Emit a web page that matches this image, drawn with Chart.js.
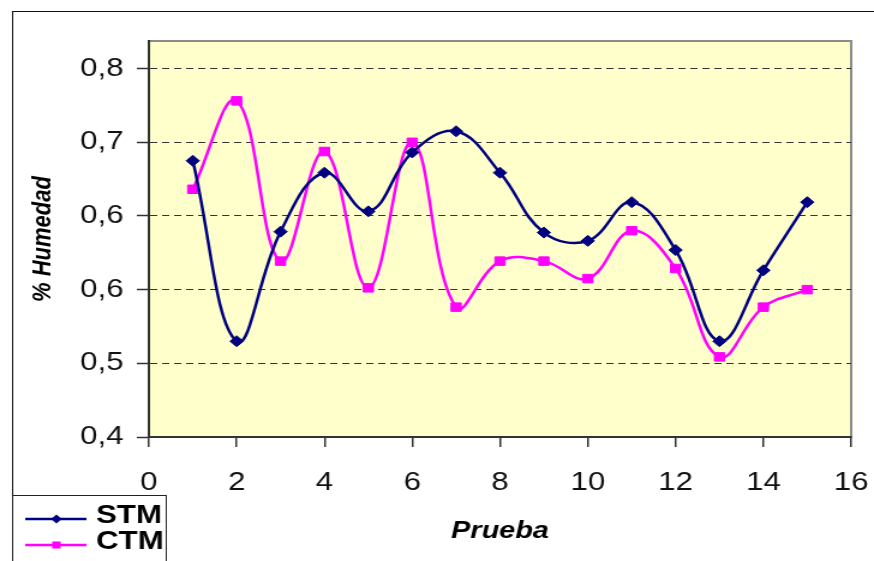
<!DOCTYPE html>
<html>
<head>
<meta charset="utf-8">
<script src="https://cdn.jsdelivr.net/npm/chart.js@4.4.1/dist/chart.umd.min.js"></script>
<style>
  html, body { margin: 0; padding: 0; background: #fff; overflow: hidden; }
  /* chart is drawn narrow and widened, so the lettering comes out broad */
  #wrap { width: 728px; height: 561px; transform: scaleX(1.2005); transform-origin: 0 0; }
</style>
</head>
<body>
<div id="wrap"><canvas id="humedad-chart" width="728" height="561"></canvas></div>
<script>
const pruebas = [1, 2, 3, 4, 5, 6, 7, 8, 9, 10, 11, 12, 13, 14, 15];
const stmValues = [0.700, 0.504, 0.623, 0.687, 0.645, 0.709, 0.732, 0.687, 0.622, 0.613, 0.655, 0.603, 0.504, 0.581, 0.655];
const ctmValues = [0.669, 0.765, 0.591, 0.710, 0.562, 0.720, 0.541, 0.591, 0.591, 0.572, 0.624, 0.583, 0.487, 0.541, 0.560];
const xTicks = [0, 2, 4, 6, 8, 10, 12, 14, 16];
const yTicks = [0.4, 0.48, 0.56, 0.64, 0.72, 0.8];

const family = "'Liberation Sans', Arial, sans-serif";

// yellow plot area, its grey frame and the outer chart border
const plotFrame = {
    id: 'plotFrame',
    beforeDraw(chart) {
        const { ctx, chartArea: a } = chart;
        ctx.save();
        ctx.strokeStyle = '#111';
        ctx.lineWidth = 1;
        ctx.strokeRect(10.5, 11.5, 900, 700);
        ctx.fillStyle = '#FFFFCC';
        ctx.fillRect(a.left, a.top, a.right - a.left, a.bottom - a.top);
        ctx.strokeStyle = '#8c8c8c';
        ctx.lineWidth = 2;
        ctx.strokeRect(a.left, a.top, a.right - a.left, a.bottom - a.top);
        ctx.restore();
    }
};

// boxed legend in the lower left corner
const boxLegend = {
    id: 'boxLegend',
    afterDraw(chart) {
        const { ctx } = chart;
        ctx.save();
        ctx.fillStyle = '#fff';
        ctx.fillRect(10, 495, 128, 80);
        ctx.strokeStyle = '#222';
        ctx.lineWidth = 1;
        ctx.strokeRect(10.5, 495.5, 128, 80);
        ctx.font = `bold 26px ${family}`;
        ctx.textBaseline = 'middle';
        chart.data.datasets.forEach((ds, i) => {
            const y = 519 + i * 26;
            ctx.strokeStyle = ds.borderColor;
            ctx.lineWidth = ds.borderWidth;
            ctx.beginPath();
            ctx.moveTo(21, y);
            ctx.lineTo(72, y);
            ctx.stroke();
            ctx.fillStyle = ds.pointBackgroundColor;
            Chart.helpers.drawPoint(ctx, { pointStyle: ds.pointStyle, radius: ds.pointRadius - 1, borderWidth: 0 }, 47, y);
            ctx.fillStyle = '#000';
            ctx.fillText(ds.label, 80, y - 3);
        });
        ctx.restore();
    }
};

new Chart(document.getElementById('humedad-chart'), {
    type: 'line',
    data: {
        datasets: [
            {
                label: 'STM',
                data: pruebas.map((p, i) => ({ x: p, y: stmValues[i] })),
                borderColor: '#000080',
                backgroundColor: '#000080',
                pointBackgroundColor: '#000080',
                pointBorderColor: '#000080',
                pointStyle: 'rectRot',
                pointRadius: 5.5,
                pointBorderWidth: 1,
                borderWidth: 2.5,
                tension: 0.4
            },
            {
                label: 'CTM',
                data: pruebas.map((p, i) => ({ x: p, y: ctmValues[i] })),
                borderColor: '#FF00FF',
                backgroundColor: '#FF00FF',
                pointBackgroundColor: '#FF00FF',
                pointBorderColor: '#FF00FF',
                pointStyle: 'rect',
                pointRadius: 6,
                pointBorderWidth: 1,
                borderWidth: 2.5,
                tension: 0.4
            }
        ]
    },
    options: {
        responsive: false,
        animation: false,
        devicePixelRatio: 1,
        layout: { padding: { top: 41, right: 19, left: 0, bottom: 0 } },
        plugins: {
            legend: { display: false },
            tooltip: { enabled: false }
        },
        scales: {
            x: {
                type: 'linear',
                min: 0,
                max: 16,
                afterBuildTicks: scale => { scale.ticks = xTicks.map(v => ({ value: v })); },
                afterFit: scale => {
                    scale.height = 124;
                    scale.paddingLeft = 0;
                    scale.paddingRight = 0;
                },
                grid: { drawOnChartArea: false, tickLength: 10, color: '#333', lineWidth: 1.5 },
                border: { color: '#333', width: 2 },
                ticks: { font: { family, size: 26 }, color: '#111', padding: 20, maxRotation: 0 },
                title: {
                    display: true,
                    text: 'Prueba',
                    color: '#000',
                    font: { family, size: 24, weight: 'bold', style: 'italic' },
                    padding: { top: 0, bottom: 15 }
                }
            },
            y: {
                min: 0.4,
                max: 0.83,
                afterBuildTicks: scale => { scale.ticks = yTicks.map(v => ({ value: v })); },
                afterFit: scale => { scale.width = 124; },
                grid: { color: '#333', lineWidth: 1, tickLength: 10, tickColor: '#333', tickWidth: 1.5 },
                border: { display: true, color: '#333', width: 2, dash: [6, 4] },
                ticks: {
                    font: { family, size: 26 },
                    color: '#111',
                    padding: 11,
                    callback: v => v.toFixed(1).replace('.', ',')
                },
                title: {
                    display: true,
                    text: '% Humedad',
                    color: '#000',
                    font: { family, size: 22, weight: 'bold', style: 'italic' },
                    padding: { top: 23, bottom: 0 }
                }
            }
        }
    },
    plugins: [plotFrame, boxLegend]
});
</script>
</body>
</html>
